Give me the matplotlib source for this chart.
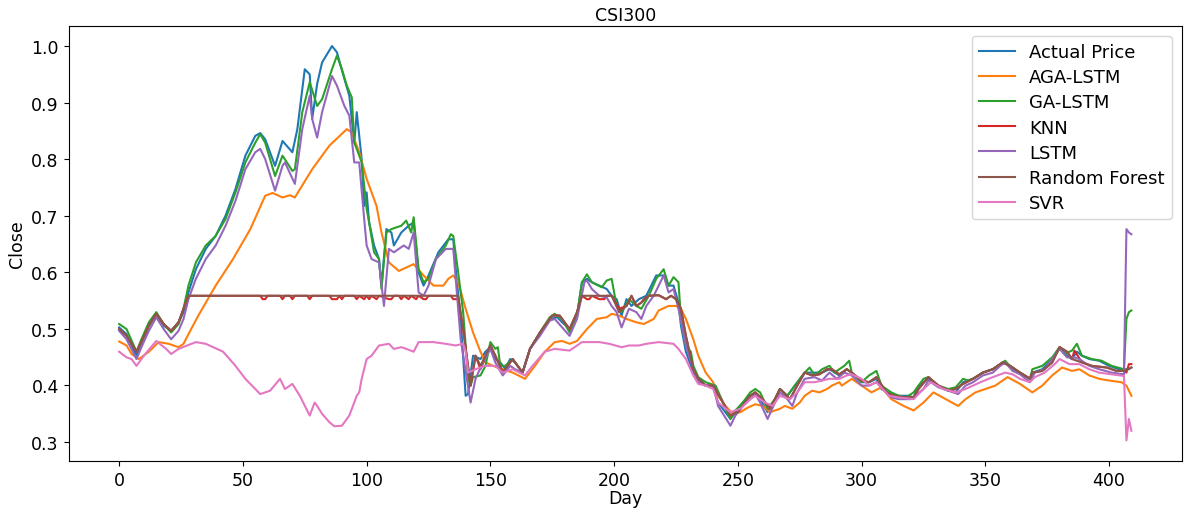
import matplotlib
matplotlib.use("Agg")
import matplotlib.pyplot as plt

# ---- data ----
actual_days = [0, 3, 7, 9, 12, 15, 18, 21, 24, 26, 28, 31, 35, 39, 43, 47, 51, 55, 57, 59,
               63, 66, 70, 72, 75, 77, 78, 80, 82, 86, 88, 91, 93, 95, 96, 98, 99, 100, 101, 103,
               105, 106, 108, 110, 111, 114, 117, 119, 121, 123, 125, 129, 133, 135, 136, 138, 140, 141, 143, 146,
               148, 150, 152, 154, 156, 158, 160, 163, 166, 170, 174, 177, 179, 182, 185, 187, 189, 191, 194, 197,
               199, 201, 203, 205, 207, 210, 213, 215, 217, 220, 222, 224, 226, 227, 229, 232, 234, 237, 240, 242,
               247, 249, 252, 255, 257, 259, 262, 265, 267, 270, 273, 277, 280, 284, 287, 291, 294, 296, 300, 303,
               306, 308, 312, 315, 319, 321, 323, 327, 331, 334, 338, 341, 345, 349, 353, 357, 360, 364, 368, 369,
               373, 377, 380, 383, 385, 387, 389, 392, 396, 400, 404, 406, 408, 409]
actual_vals = [0.502, 0.490, 0.452, 0.476, 0.505, 0.526, 0.505, 0.496, 0.511, 0.529, 0.564, 0.605, 0.641, 0.664, 0.700, 0.747, 0.806, 0.841, 0.846, 0.835,
               0.788, 0.832, 0.812, 0.853, 0.959, 0.950, 0.871, 0.933, 0.971, 1.000, 0.989, 0.942, 0.912, 0.829, 0.883, 0.800, 0.717, 0.741, 0.688, 0.647,
               0.623, 0.576, 0.676, 0.670, 0.647, 0.670, 0.682, 0.688, 0.599, 0.576, 0.594, 0.635, 0.658, 0.658, 0.605, 0.517, 0.381, 0.384, 0.452, 0.446,
               0.459, 0.467, 0.446, 0.440, 0.428, 0.446, 0.440, 0.422, 0.464, 0.493, 0.517, 0.520, 0.511, 0.499, 0.523, 0.582, 0.588, 0.582, 0.576, 0.570,
               0.558, 0.552, 0.523, 0.552, 0.540, 0.552, 0.558, 0.576, 0.594, 0.594, 0.576, 0.576, 0.546, 0.505, 0.459, 0.422, 0.411, 0.399, 0.399, 0.369,
               0.340, 0.352, 0.369, 0.381, 0.387, 0.375, 0.352, 0.375, 0.393, 0.381, 0.399, 0.422, 0.422, 0.422, 0.428, 0.417, 0.428, 0.422, 0.405, 0.405,
               0.411, 0.393, 0.384, 0.381, 0.381, 0.378, 0.399, 0.411, 0.399, 0.393, 0.387, 0.405, 0.411, 0.422, 0.428, 0.440, 0.434, 0.422, 0.411, 0.422,
               0.428, 0.446, 0.467, 0.452, 0.446, 0.459, 0.452, 0.446, 0.443, 0.434, 0.428, 0.428, 0.428, 0.431]

aga_days = [0, 3, 5, 8, 12, 16, 20, 24, 26, 28, 32, 39, 46, 53, 59, 62, 66, 69, 71, 78,
            85, 92, 94, 97, 100, 104, 106, 109, 113, 116, 119, 123, 127, 131, 133, 135, 137, 140, 143, 146,
            148, 151, 155, 159, 164, 168, 172, 176, 179, 182, 185, 189, 193, 197, 199, 202, 205, 209, 212, 216,
            218, 222, 225, 227, 229, 232, 234, 237, 240, 242, 245, 248, 251, 254, 257, 260, 263, 267, 269, 272,
            275, 277, 280, 283, 286, 288, 291, 292, 296, 300, 304, 308, 312, 317, 321, 325, 329, 334, 339, 342,
            346, 350, 354, 359, 364, 369, 373, 377, 381, 385, 388, 392, 396, 400, 405, 407, 409]
aga_vals = [0.477, 0.470, 0.455, 0.446, 0.459, 0.476, 0.473, 0.467, 0.473, 0.490, 0.523, 0.576, 0.623, 0.676, 0.735, 0.740, 0.732, 0.736, 0.732, 0.782,
            0.824, 0.853, 0.847, 0.812, 0.765, 0.717, 0.670, 0.617, 0.602, 0.608, 0.614, 0.594, 0.576, 0.576, 0.588, 0.594, 0.582, 0.535, 0.493, 0.459,
            0.440, 0.434, 0.428, 0.422, 0.411, 0.434, 0.459, 0.476, 0.478, 0.473, 0.478, 0.499, 0.517, 0.520, 0.526, 0.523, 0.517, 0.511, 0.508, 0.517,
            0.532, 0.540, 0.540, 0.535, 0.517, 0.481, 0.452, 0.422, 0.405, 0.381, 0.363, 0.349, 0.352, 0.360, 0.366, 0.363, 0.352, 0.358, 0.363, 0.358,
            0.369, 0.381, 0.390, 0.387, 0.393, 0.399, 0.405, 0.399, 0.411, 0.399, 0.387, 0.396, 0.375, 0.363, 0.355, 0.369, 0.387, 0.375, 0.363, 0.375,
            0.387, 0.393, 0.399, 0.414, 0.402, 0.387, 0.399, 0.417, 0.431, 0.425, 0.428, 0.417, 0.411, 0.408, 0.405, 0.399, 0.381]

ga_days = [0, 3, 7, 9, 12, 15, 18, 21, 24, 26, 28, 31, 35, 39, 43, 47, 51, 55, 57, 59,
           63, 66, 70, 71, 74, 77, 80, 82, 86, 88, 90, 92, 94, 95, 96, 98, 100, 101, 103, 105,
           106, 108, 110, 114, 116, 118, 119, 121, 123, 125, 128, 132, 134, 135, 137, 139, 141, 142, 143, 146,
           148, 150, 152, 153, 154, 156, 159, 163, 166, 170, 174, 176, 179, 182, 185, 187, 189, 191, 195, 197,
           199, 201, 203, 206, 209, 211, 214, 217, 220, 222, 224, 226, 227, 229, 231, 232, 234, 237, 241, 244,
           247, 249, 252, 255, 257, 259, 262, 265, 267, 270, 273, 277, 279, 281, 284, 287, 289, 293, 295, 296,
           300, 303, 306, 308, 312, 315, 318, 321, 325, 327, 331, 335, 338, 341, 343, 345, 349, 353, 356, 358,
           361, 364, 366, 368, 369, 373, 377, 380, 382, 385, 387, 389, 393, 397, 401, 406, 407, 408, 409]
ga_vals = [0.508, 0.499, 0.459, 0.481, 0.511, 0.529, 0.508, 0.493, 0.508, 0.535, 0.576, 0.617, 0.647, 0.664, 0.694, 0.741, 0.794, 0.829, 0.844, 0.829,
           0.770, 0.806, 0.779, 0.782, 0.883, 0.936, 0.894, 0.906, 0.959, 0.983, 0.959, 0.930, 0.909, 0.829, 0.818, 0.794, 0.712, 0.688, 0.635, 0.623,
           0.570, 0.670, 0.676, 0.682, 0.691, 0.670, 0.697, 0.605, 0.582, 0.588, 0.623, 0.647, 0.667, 0.664, 0.599, 0.529, 0.411, 0.399, 0.414, 0.417,
           0.434, 0.476, 0.464, 0.467, 0.434, 0.434, 0.446, 0.422, 0.464, 0.493, 0.520, 0.526, 0.517, 0.493, 0.523, 0.582, 0.596, 0.582, 0.573, 0.585,
           0.588, 0.540, 0.529, 0.552, 0.540, 0.535, 0.558, 0.588, 0.605, 0.576, 0.591, 0.582, 0.517, 0.470, 0.459, 0.434, 0.414, 0.405, 0.399, 0.369,
           0.340, 0.355, 0.369, 0.387, 0.393, 0.387, 0.358, 0.375, 0.393, 0.381, 0.399, 0.422, 0.431, 0.417, 0.428, 0.434, 0.422, 0.434, 0.443, 0.422,
           0.405, 0.417, 0.425, 0.399, 0.387, 0.381, 0.378, 0.387, 0.411, 0.414, 0.399, 0.393, 0.396, 0.411, 0.408, 0.411, 0.422, 0.428, 0.437, 0.443,
           0.428, 0.422, 0.417, 0.411, 0.428, 0.434, 0.449, 0.467, 0.455, 0.461, 0.473, 0.452, 0.446, 0.443, 0.434, 0.428, 0.517, 0.529, 0.532]

knn_days = [0, 3, 7, 9, 12, 15, 18, 21, 24, 26, 28, 57, 58, 59, 60, 65, 66, 67, 69, 70,
            71, 76, 77, 78, 85, 86, 88, 89, 90, 91, 95, 96, 97, 99, 100, 101, 102, 104, 105, 109,
            110, 111, 113, 114, 115, 117, 118, 120, 121, 123, 124, 125, 134, 135, 137, 139, 142, 144, 146, 150,
            152, 155, 159, 163, 166, 171, 175, 178, 182, 185, 187, 189, 190, 191, 194, 196, 197, 199, 202, 205,
            207, 209, 211, 212, 214, 218, 221, 223, 225, 227, 229, 232, 234, 237, 240, 244, 247, 250, 255, 257,
            260, 263, 265, 267, 271, 274, 277, 280, 283, 286, 288, 291, 294, 296, 300, 303, 306, 310, 313, 317,
            321, 323, 327, 331, 335, 338, 341, 345, 349, 353, 357, 360, 364, 368, 369, 373, 377, 380, 383, 385,
            386, 389, 393, 399, 403, 406, 407, 408, 409]
knn_vals = [0.499, 0.487, 0.459, 0.476, 0.505, 0.526, 0.508, 0.496, 0.511, 0.535, 0.558, 0.558, 0.552, 0.552, 0.558, 0.558, 0.552, 0.558, 0.558, 0.552,
            0.558, 0.558, 0.552, 0.558, 0.558, 0.552, 0.552, 0.558, 0.552, 0.558, 0.558, 0.552, 0.558, 0.552, 0.558, 0.552, 0.558, 0.552, 0.558, 0.552,
            0.552, 0.558, 0.558, 0.552, 0.558, 0.552, 0.558, 0.552, 0.558, 0.552, 0.552, 0.558, 0.558, 0.552, 0.552, 0.499, 0.399, 0.452, 0.428, 0.470,
            0.452, 0.422, 0.446, 0.422, 0.464, 0.499, 0.523, 0.523, 0.499, 0.529, 0.558, 0.552, 0.552, 0.558, 0.552, 0.552, 0.558, 0.558, 0.535, 0.540,
            0.558, 0.540, 0.546, 0.552, 0.558, 0.559, 0.552, 0.558, 0.552, 0.535, 0.487, 0.428, 0.411, 0.399, 0.399, 0.369, 0.346, 0.352, 0.381, 0.387,
            0.375, 0.358, 0.375, 0.393, 0.375, 0.399, 0.422, 0.417, 0.419, 0.428, 0.428, 0.419, 0.428, 0.422, 0.408, 0.405, 0.414, 0.387, 0.381, 0.378,
            0.378, 0.393, 0.414, 0.399, 0.390, 0.393, 0.402, 0.411, 0.422, 0.428, 0.440, 0.434, 0.422, 0.411, 0.422, 0.425, 0.440, 0.467, 0.459, 0.446,
            0.461, 0.440, 0.434, 0.431, 0.425, 0.425, 0.422, 0.437, 0.437]

lstm_days = [0, 3, 7, 9, 12, 15, 18, 21, 24, 26, 28, 31, 35, 39, 43, 47, 51, 55, 57, 59,
             63, 66, 67, 71, 74, 77, 78, 80, 82, 86, 88, 91, 93, 95, 97, 99, 100, 102, 105, 107,
             109, 111, 115, 117, 119, 121, 123, 125, 128, 132, 135, 136, 138, 142, 144, 147, 150, 152, 155, 158,
             160, 163, 166, 170, 174, 176, 179, 182, 185, 188, 189, 191, 194, 197, 199, 201, 203, 206, 209, 211,
             213, 216, 220, 222, 224, 226, 229, 232, 234, 237, 240, 242, 247, 249, 252, 255, 257, 259, 262, 265,
             267, 270, 272, 274, 277, 281, 284, 287, 290, 293, 296, 300, 303, 306, 310, 312, 315, 320, 325, 327,
             331, 335, 339, 342, 345, 349, 353, 356, 358, 361, 364, 368, 370, 374, 378, 380, 383, 386, 388, 392,
             396, 401, 406, 407, 408, 409]
lstm_vals = [0.496, 0.481, 0.446, 0.467, 0.496, 0.520, 0.499, 0.481, 0.496, 0.517, 0.552, 0.588, 0.623, 0.647, 0.682, 0.726, 0.782, 0.812, 0.818, 0.800,
             0.744, 0.788, 0.794, 0.756, 0.853, 0.912, 0.871, 0.838, 0.883, 0.947, 0.930, 0.894, 0.877, 0.794, 0.794, 0.694, 0.647, 0.623, 0.617, 0.540,
             0.641, 0.635, 0.647, 0.641, 0.670, 0.564, 0.558, 0.576, 0.623, 0.641, 0.641, 0.588, 0.481, 0.369, 0.411, 0.440, 0.464, 0.440, 0.417, 0.434,
             0.428, 0.422, 0.464, 0.487, 0.514, 0.517, 0.502, 0.487, 0.517, 0.582, 0.585, 0.570, 0.558, 0.555, 0.540, 0.529, 0.502, 0.535, 0.529, 0.517,
             0.540, 0.558, 0.594, 0.564, 0.570, 0.535, 0.470, 0.428, 0.405, 0.399, 0.399, 0.363, 0.328, 0.346, 0.363, 0.375, 0.384, 0.369, 0.340, 0.369,
             0.387, 0.375, 0.363, 0.387, 0.411, 0.414, 0.408, 0.422, 0.411, 0.422, 0.417, 0.399, 0.399, 0.405, 0.387, 0.378, 0.375, 0.375, 0.393, 0.408,
             0.396, 0.390, 0.384, 0.399, 0.405, 0.417, 0.422, 0.434, 0.440, 0.425, 0.419, 0.405, 0.422, 0.428, 0.452, 0.464, 0.449, 0.449, 0.446, 0.434,
             0.428, 0.422, 0.419, 0.676, 0.670, 0.667]

rf_days = [0, 3, 7, 9, 12, 15, 18, 21, 24, 26, 28, 137, 139, 142, 144, 146, 150, 152, 155, 159,
           163, 166, 171, 175, 178, 182, 185, 187, 199, 202, 205, 207, 209, 211, 214, 218, 221, 223, 225, 227,
           229, 232, 234, 237, 240, 244, 247, 250, 255, 257, 260, 263, 265, 267, 271, 274, 277, 280, 283, 286,
           288, 291, 294, 296, 300, 303, 306, 310, 313, 317, 321, 323, 327, 331, 335, 338, 341, 345, 349, 353,
           357, 360, 364, 368, 369, 373, 377, 380, 383, 385, 389, 393, 399, 403, 406, 409]
rf_vals = [0.499, 0.487, 0.459, 0.476, 0.505, 0.526, 0.508, 0.496, 0.511, 0.535, 0.558, 0.558, 0.499, 0.399, 0.452, 0.434, 0.470, 0.452, 0.422, 0.446,
           0.422, 0.464, 0.499, 0.523, 0.523, 0.499, 0.529, 0.558, 0.558, 0.529, 0.540, 0.558, 0.540, 0.546, 0.558, 0.559, 0.552, 0.558, 0.552, 0.535,
           0.487, 0.428, 0.411, 0.399, 0.399, 0.369, 0.346, 0.352, 0.381, 0.387, 0.375, 0.358, 0.375, 0.393, 0.375, 0.399, 0.422, 0.417, 0.419, 0.428,
           0.428, 0.419, 0.428, 0.422, 0.408, 0.405, 0.414, 0.387, 0.381, 0.378, 0.378, 0.393, 0.414, 0.399, 0.390, 0.393, 0.402, 0.411, 0.422, 0.428,
           0.440, 0.434, 0.422, 0.411, 0.422, 0.425, 0.440, 0.467, 0.459, 0.446, 0.440, 0.434, 0.431, 0.425, 0.425, 0.431]

svr_days = [0, 3, 5, 7, 10, 15, 19, 21, 24, 31, 35, 42, 47, 51, 57, 61, 65, 67, 70, 73,
            77, 79, 80, 82, 85, 87, 90, 93, 96, 97, 98, 100, 102, 105, 109, 111, 114, 116, 119, 121,
            127, 132, 136, 139, 140, 141, 144, 148, 152, 155, 159, 164, 167, 172, 176, 182, 187, 194, 198, 203,
            206, 210, 213, 218, 224, 226, 229, 232, 234, 237, 240, 242, 247, 251, 255, 257, 261, 264, 267, 271,
            274, 277, 281, 284, 287, 291, 294, 296, 300, 303, 306, 311, 315, 321, 325, 328, 333, 338, 342, 348,
            353, 358, 361, 364, 368, 370, 374, 378, 380, 384, 388, 392, 396, 401, 406, 407, 408, 409]
svr_vals = [0.459, 0.449, 0.446, 0.434, 0.452, 0.478, 0.464, 0.455, 0.464, 0.476, 0.473, 0.459, 0.434, 0.411, 0.384, 0.390, 0.411, 0.393, 0.402, 0.381,
            0.346, 0.369, 0.363, 0.349, 0.334, 0.327, 0.328, 0.346, 0.381, 0.387, 0.411, 0.446, 0.452, 0.470, 0.473, 0.464, 0.467, 0.464, 0.459, 0.476,
            0.476, 0.473, 0.470, 0.473, 0.459, 0.422, 0.428, 0.434, 0.434, 0.422, 0.428, 0.417, 0.434, 0.459, 0.464, 0.461, 0.476, 0.476, 0.473, 0.467,
            0.470, 0.470, 0.473, 0.476, 0.473, 0.464, 0.446, 0.417, 0.402, 0.399, 0.393, 0.369, 0.352, 0.358, 0.375, 0.381, 0.369, 0.363, 0.381, 0.375,
            0.387, 0.405, 0.405, 0.408, 0.411, 0.411, 0.417, 0.419, 0.411, 0.399, 0.405, 0.381, 0.378, 0.375, 0.393, 0.405, 0.393, 0.387, 0.393, 0.405,
            0.414, 0.422, 0.419, 0.411, 0.405, 0.414, 0.422, 0.437, 0.446, 0.437, 0.437, 0.428, 0.422, 0.419, 0.416, 0.302, 0.340, 0.319]

# ---- figure ----
fig = plt.figure(figsize=(11.92, 5.10), dpi=100)
ax = fig.add_axes([0.0575, 0.0935, 0.9341, 0.8541])

ax.plot(actual_days, actual_vals, label='Actual Price')
ax.plot(aga_days, aga_vals, label='AGA-LSTM')
ax.plot(ga_days, ga_vals, label='GA-LSTM')
ax.plot(knn_days, knn_vals, label='KNN')
ax.plot(lstm_days, lstm_vals, label='LSTM')
ax.plot(rf_days, rf_vals, label='Random Forest')
ax.plot(svr_days, svr_vals, label='SVR')

ax.set_ylim(0.265, 1.036)
ax.set_title('CSI300', fontsize=12.5, pad=4)
ax.set_xlabel('Day', fontsize=12.5, labelpad=0)
ax.set_ylabel('Close', fontsize=12.5)
ax.tick_params(labelsize=12.5)
ax.legend(loc='upper right', fontsize=13, labelspacing=0.4, borderaxespad=0.55)

fig.savefig('out.png', dpi=100)
